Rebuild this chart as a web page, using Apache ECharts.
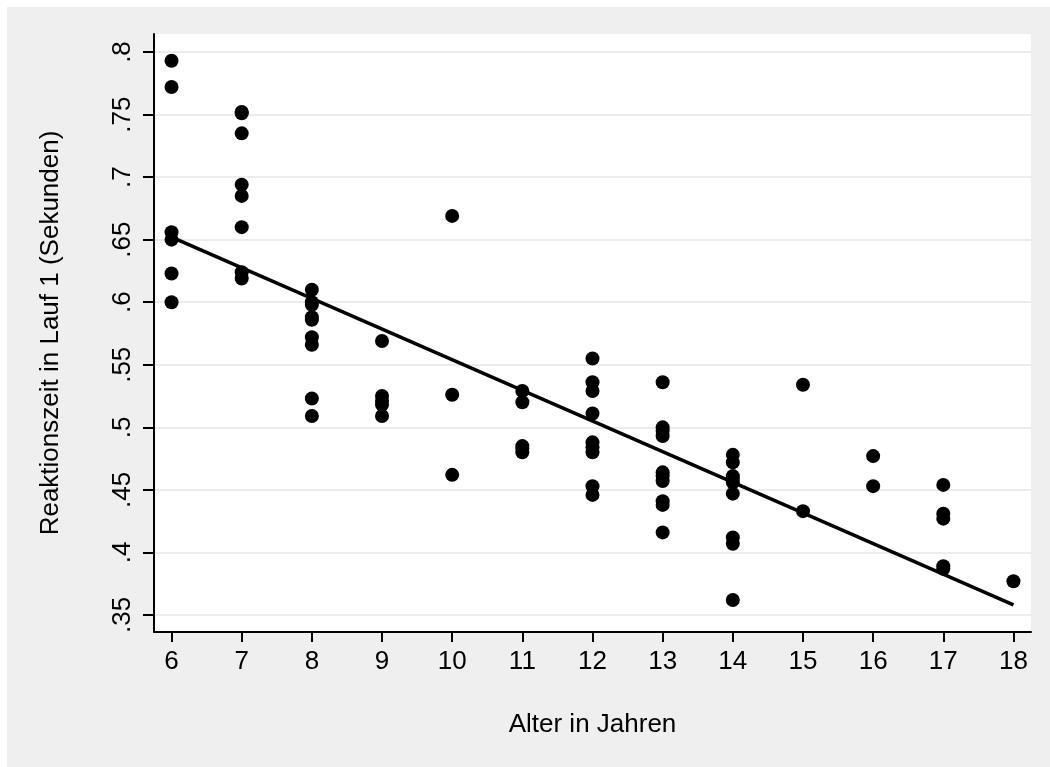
<!DOCTYPE html>
<html>
<head>
<meta charset="utf-8">
<script src="https://cdn.jsdelivr.net/npm/echarts@6/dist/echarts.min.js"></script>
<style>
html,body{margin:0;padding:0;background:#fff;overflow:hidden;}
#chart{width:1050px;height:767px;}
</style>
</head>
<body>
<div id="chart"></div>
<script>
// Ages (x) and reaction times (y), grouped by age
const ages = [6, 7, 8, 9, 10, 11, 12, 13, 14, 15, 16, 17, 18];
const rt6  = [0.793, 0.772, 0.656, 0.650, 0.623, 0.600];
const rt7  = [0.752, 0.751, 0.735, 0.694, 0.685, 0.660, 0.624, 0.619];
const rt8  = [0.610, 0.600, 0.598, 0.588, 0.586, 0.572, 0.566, 0.523, 0.509];
const rt9  = [0.569, 0.525, 0.521, 0.518, 0.509];
const rt10 = [0.669, 0.526, 0.462];
const rt11 = [0.529, 0.520, 0.485, 0.483, 0.480];
const rt12 = [0.555, 0.536, 0.529, 0.511, 0.488, 0.484, 0.480, 0.453, 0.446];
const rt13 = [0.536, 0.500, 0.497, 0.493, 0.464, 0.461, 0.457, 0.441, 0.438, 0.416];
const rt14 = [0.478, 0.472, 0.461, 0.459, 0.456, 0.447, 0.412, 0.407, 0.362];
const rt15 = [0.534, 0.433];
const rt16 = [0.477, 0.453];
const rt17 = [0.454, 0.431, 0.427, 0.389, 0.387];
const rt18 = [0.377];
const rtGroups = [rt6, rt7, rt8, rt9, rt10, rt11, rt12, rt13, rt14, rt15, rt16, rt17, rt18];

// Fitted line end points
const fitX = [6, 18];
const fitY = [0.652, 0.358];

// Tick values
const xTicks = [6, 7, 8, 9, 10, 11, 12, 13, 14, 15, 16, 17, 18];
const yTicks = [0.35, 0.4, 0.45, 0.5, 0.55, 0.6, 0.65, 0.7, 0.75, 0.8];

const xTitle = 'Alter in Jahren';
const yTitle = 'Reaktionszeit in Lauf 1 (Sekunden)';

const points = [];
ages.forEach((a, i) => rtGroups[i].forEach(v => points.push([a, v])));
const fitLine = fitX.map((x, i) => [x, fitY[i]]);

const FONT = '"Liberation Sans", Arial, Helvetica, sans-serif';
const chart = echarts.init(document.getElementById('chart'), null, {renderer: 'canvas'});
chart.setOption({
  animation: false,
  backgroundColor: '#ffffff',
  graphic: [{
    type: 'rect', z: -10, silent: true,
    shape: {x: 7, y: 7, width: 1100, height: 800},
    style: {fill: '#efefef'}
  }],
  grid: {
    left: 154, right: 19, top: 34, bottom: 135,
    show: true, backgroundColor: '#ffffff', borderWidth: 0,
    containLabel: false
  },
  xAxis: {
    type: 'value', min: 5.75, max: 18.25,
    name: xTitle, nameLocation: 'middle', nameGap: 80,
    nameTextStyle: {fontFamily: FONT, fontSize: 26, color: '#000'},
    axisLine: {show: true, onZero: false, lineStyle: {color: '#000', width: 2}},
    axisTick: {show: true, length: 10, customValues: xTicks, lineStyle: {color: '#000', width: 2}},
    axisLabel: {customValues: xTicks, margin: 17, fontFamily: FONT, fontSize: 26, color: '#000'},
    splitLine: {show: false}
  },
  yAxis: {
    type: 'value', min: 0.3364, max: 0.8144,
    name: yTitle, nameLocation: 'middle', nameGap: 90, nameRotate: 90,
    nameTextStyle: {fontFamily: FONT, fontSize: 26, color: '#000'},
    axisLine: {show: true, onZero: false, lineStyle: {color: '#000', width: 2}},
    axisTick: {show: true, length: 11, customValues: yTicks, lineStyle: {color: '#000', width: 2}},
    axisLabel: {
      customValues: yTicks, rotate: 90, margin: 18,
      fontFamily: FONT, fontSize: 26, color: '#000',
      formatter: v => String(+(+v).toFixed(2)).replace(/^0/, '')
    },
    splitLine: {show: true, lineStyle: {color: '#e6e6e6', width: 1.5}}
  },
  series: [{
    type: 'scatter', data: points, symbol: 'circle', symbolSize: 14,
    itemStyle: {color: '#000', opacity: 1}, z: 3
  }, {
    type: 'line', data: fitLine, symbol: 'none',
    lineStyle: {color: '#000', width: 3.5}, z: 4
  }]
});
</script>
</body>
</html>
